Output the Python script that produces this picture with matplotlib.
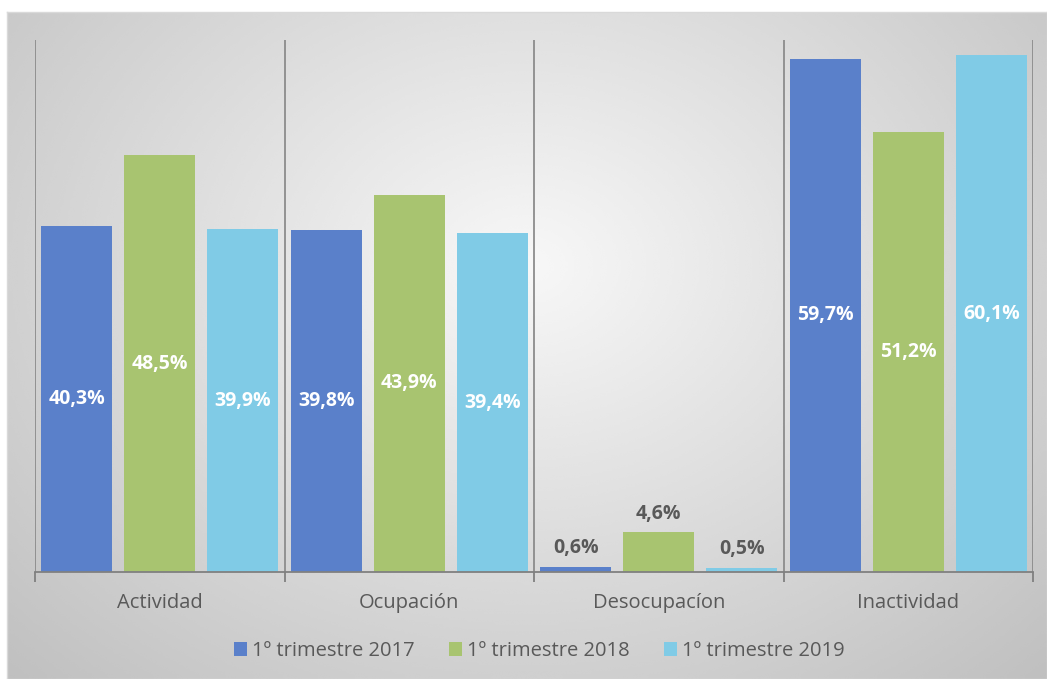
import numpy as np
import matplotlib
matplotlib.use("Agg")
import matplotlib.pyplot as plt

plt.rcParams['font.family'] = ['Open Sans', 'DejaVu Sans']

categorias = ['Actividad', 'Ocupación', 'Desocupacíon', 'Inactividad']
series = ['1º trimestre 2017', '1º trimestre 2018', '1º trimestre 2019']
t2017 = [40.3, 39.8, 0.6, 59.7]
t2018 = [48.5, 43.9, 4.6, 51.2]
t2019 = [39.9, 39.4, 0.5, 60.1]
colores = ['#5A80CA', '#A8C470', '#80CBE6']

W, H = 1047, 679
fig = plt.figure(figsize=(W / 100, H / 100), dpi=100)

# fondo con degradado radial
bg = fig.add_axes([7 / W, 0, 1 - 7 / W, 1 - 12 / H])
yy, xx = np.mgrid[0:1:300j, 0:1:450j]
r = np.sqrt(((xx - 0.5) / 0.62) ** 2 + ((yy - 0.38) / 0.75) ** 2)
grad = np.clip(0.97 - 0.19 * r, 0, 1)
bg.imshow(grad, cmap='gray', vmin=0, vmax=1, aspect='auto',
          extent=[0, 1, 1, 0], interpolation='bicubic')
bg.set_xticks([])
bg.set_yticks([])
for s in bg.spines.values():
    s.set_color('#d9d9d9')
    s.set_linewidth(1)

ax = fig.add_axes([35 / W, (H - 572) / H, 998 / W, 532 / H])
ax.patch.set_alpha(0)
x = np.arange(len(categorias))
ancho = 0.284
paso = 0.333
for i, (vals, col) in enumerate(zip([t2017, t2018, t2019], colores)):
    pos = x + (i - 1) * paso
    barras = ax.bar(pos, vals, ancho, color=col, label=series[i], zorder=2)
    for b, v in zip(barras, vals):
        txt = f'{v:.1f}%'.replace('.', ',')
        if v < 10:
            ax.text(b.get_x() + b.get_width() / 2, v + 2.2, txt,
                    ha='center', va='center', color='#595959',
                    fontsize=14, fontweight='bold')
        else:
            ax.text(b.get_x() + b.get_width() / 2, v / 2, txt,
                    ha='center', va='center', color='white',
                    fontsize=14, fontweight='bold')

ax.set_xlim(-0.5, 3.5)
ax.set_ylim(0, 61.9)
for sep in np.arange(-0.5, 4, 1):
    ax.axvline(sep, color='#8c8c8c', lw=1.3, zorder=1)
for s in ['top', 'right', 'left']:
    ax.spines[s].set_visible(False)
ax.spines['bottom'].set_color('#808080')
ax.spines['bottom'].set_linewidth(1.3)
ax.set_yticks([])
ax.set_xticks(np.arange(-0.5, 4, 1))
ax.set_xticklabels([])
ax.tick_params(axis='x', length=7, width=1.3, color='#808080')
for xi, c in zip(x, categorias):
    ax.text(xi, -3.55, c, ha='center', va='center', fontsize=14.5,
            color='#595959')

ax.legend(loc='center', bbox_to_anchor=(0.505, -0.148), ncol=3, frameon=False,
          fontsize=14.5, labelcolor='#595959', handlelength=0.65,
          handleheight=0.7, handletextpad=0.25, columnspacing=1.7)

fig.savefig('out.png', dpi=100, facecolor='white')
